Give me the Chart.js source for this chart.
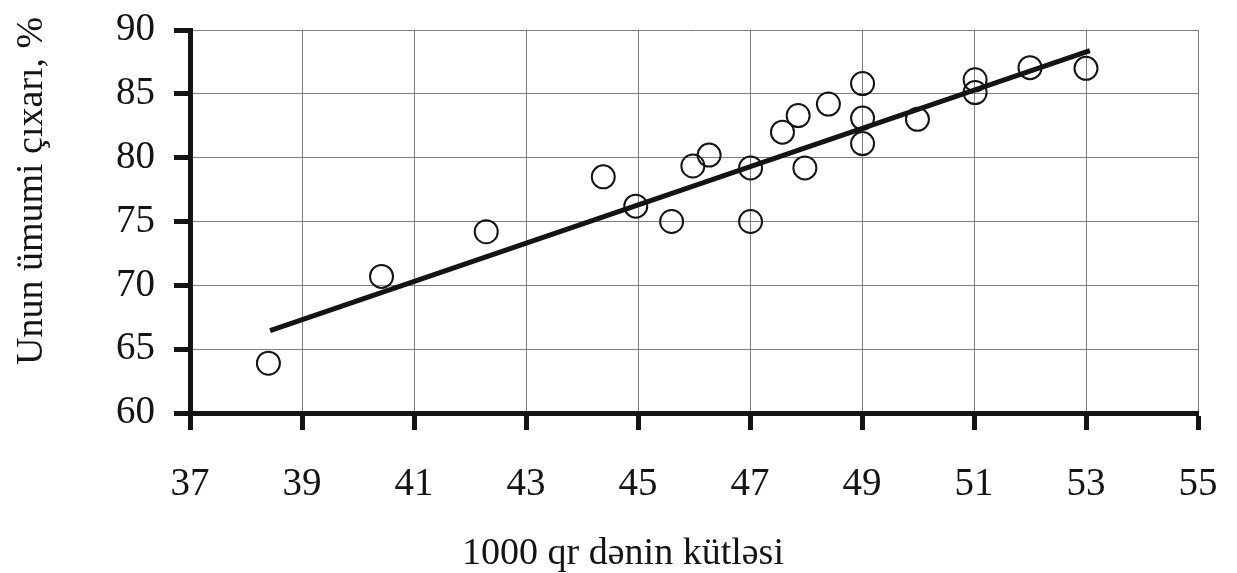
<!DOCTYPE html>
<html lang="az">
<head>
<meta charset="utf-8">
<title>Unun ümumi çıxarı</title>
<script src="https://cdn.jsdelivr.net/npm/chart.js@4.4.1/dist/chart.umd.min.js"></script>
<style>
  html, body { margin: 0; padding: 0; background: #ffffff; }
  #wrap { width: 1237px; height: 573px; }
</style>
</head>
<body>
<div id="wrap"><canvas id="chart" width="1237" height="573"></canvas></div>
<script>
// 1000 qr dənin kütləsi (q)
const grainMass = [
  38.40, 40.42, 42.29, 44.38, 44.96, 45.60, 45.98, 46.27, 47.01, 47.01, 47.58,
  47.86, 47.98, 48.40, 49.01, 49.01, 49.01, 49.99, 51.02, 51.02, 52.00, 53.00
];
// Unun ümumi çıxarı (%)
const flourYield = [
  63.9, 70.7, 74.2, 78.5, 76.2, 75.0, 79.35, 80.2, 79.2, 75.0, 82.0,
  83.3, 79.2, 84.2, 85.8, 83.1, 81.1, 83.0, 86.1, 85.1, 87.05, 87.0
];
// Trend line end points
const trendX = [38.43, 53.07];
const trendY = [66.45, 88.38];

// Axis ranges and tick steps
const xRange = [37, 55];
const xStep = 2;
const yRange = [60, 90];
const yStep = 5;

const xTitle = '1000 qr dənin kütləsi';
const yTitle = 'Unun ümumi çıxarı, %';

const FONT = "'Liberation Serif', 'Times New Roman', serif";
const INK = '#141414';

const pointsData = grainMass.map((x, i) => ({ x, y: flourYield[i] }));
const trendData = trendX.map((x, i) => ({ x, y: trendY[i] }));

// Axis titles placed at fixed spots beside the plot
const axisTitles = {
  id: 'axisTitles',
  afterDraw(chart) {
    const ctx = chart.ctx;
    ctx.save();
    ctx.fillStyle = INK;
    ctx.font = '38px ' + FONT;
    ctx.textBaseline = 'alphabetic';
    ctx.textAlign = 'center';
    ctx.fillText(xTitle, 623, 564);
    ctx.translate(42, 365);
    ctx.rotate(-Math.PI / 2);
    ctx.textAlign = 'left';
    ctx.fillText(yTitle, 0, 0);
    ctx.restore();
  }
};

const gridCommon = {
  color: '#7d7d7d',
  lineWidth: 1,
  drawTicks: true,
  tickColor: INK,
  tickWidth: 5
};

new Chart(document.getElementById('chart'), {
  type: 'scatter',
  data: {
    datasets: [
      {
        label: 'trend',
        type: 'line',
        data: trendData,
        borderColor: INK,
        borderWidth: 5,
        pointRadius: 0,
        fill: false,
        order: 0
      },
      {
        label: 'nümunələr',
        data: pointsData,
        pointRadius: 11.5,
        pointBorderWidth: 2,
        borderColor: INK,
        backgroundColor: 'rgba(0,0,0,0)',
        order: 1
      }
    ]
  },
  options: {
    responsive: false,
    animation: false,
    layout: { autoPadding: false, padding: { left: 0, top: 30, right: 39, bottom: 0 } },
    plugins: {
      legend: { display: false },
      tooltip: { enabled: false }
    },
    scales: {
      x: {
        type: 'linear',
        min: xRange[0],
        max: xRange[1],
        ticks: {
          stepSize: xStep,
          color: INK,
          font: { family: FONT, size: 39 },
          padding: 31,
          maxRotation: 0
        },
        grid: Object.assign({}, gridCommon, { tickLength: 17, borderDash: [10, 3] }),
        border: { display: true, color: INK, width: 5 },
        afterFit(scale) {
          scale.height = 160;
          scale.paddingLeft = 0;
          scale.paddingRight = 0;
        }
      },
      y: {
        type: 'linear',
        min: yRange[0],
        max: yRange[1],
        ticks: {
          stepSize: yStep,
          color: INK,
          font: { family: FONT, size: 39 },
          padding: 19
        },
        grid: Object.assign({}, gridCommon, { tickLength: 16, borderDash: [10, 3] }),
        border: { display: true, color: INK, width: 5 },
        afterFit(scale) {
          scale.width = 190;
          scale.paddingTop = 0;
          scale.paddingBottom = 0;
        }
      }
    }
  },
  plugins: [axisTitles]
});
</script>
</body>
</html>
